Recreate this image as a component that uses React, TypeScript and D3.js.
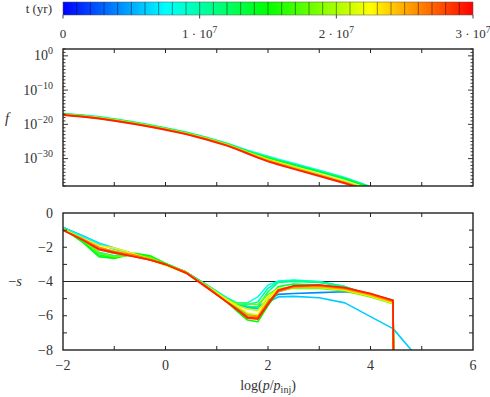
import React from "react";
import * as d3 from "d3";

// grid of log(p/p_inj) where the spectra are sampled
const logP = [-2, -1.6, -1.3, -1.0, -0.6, -0.3, 0, 0.4, 0.8, 1.2, 1.4, 1.6, 1.8, 2.0, 2.2, 2.5, 3.0, 3.5, 4.0, 4.44, 4.45, 4.81];

// times (yr) of the slope curves, bottom panel
const sTimes = [4e6, 6e6, 8e6, 10e6, 11e6, 13e6, 15e6, 18e6, 21e6, 23e6, 25e6, 26e6, 28e6, 29e6];

// -s values for each time, same order as sTimes (null = no point)
const sCurves: (number | null)[][] = [
  [-0.85, -1.35, -1.8, -2.1, -2.4, -2.7, -3.0, -3.45, -4.2, -5.0, -5.35, -5.5, -5.5, -5.1, -4.75, -4.7, -4.65, -4.6, -4.75, -5.1, -9, null],
  [-0.85, -1.35, -1.75, -2.05, -2.4, -2.7, -3.0, -3.45, -4.2, -5.0, -5.4, -5.55, -5.6, -5.2, -4.9, -4.87, -4.95, -5.25, -6.05, -6.75, -6.78, -8.05],
  [-0.85, -1.4, -1.8, -2.1, -2.4, -2.7, -3.0, -3.45, -4.2, -4.95, -5.25, -5.25, -4.9, -4.2, -3.98, -3.92, -4.0, -4.3, -4.8, -5.25, -9, null],
  [-0.87, -1.5, -2.1, -2.35, -2.45, -2.65, -2.97, -3.45, -4.2, -5.0, -5.3, -5.35, -5.2, -4.4, -4.0, -3.95, -4.02, -4.3, -4.8, -5.25, -9, null],
  [-0.88, -1.6, -2.3, -2.5, -2.45, -2.6, -2.95, -3.45, -4.2, -5.0, -5.3, -5.45, -5.5, -4.6, -4.05, -4.0, -4.05, -4.3, -4.8, -5.25, -9, null],
  [-0.9, -1.7, -2.45, -2.6, -2.4, -2.55, -2.95, -3.45, -4.25, -5.1, -5.55, -5.9, -6.0, -5.0, -4.3, -4.15, -4.2, -4.4, -4.85, -5.25, -9, null],
  [-0.9, -1.75, -2.55, -2.65, -2.35, -2.5, -2.95, -3.5, -4.3, -5.2, -5.75, -6.25, -6.35, -5.4, -4.6, -4.35, -4.35, -4.45, -4.85, -5.25, -9, null],
  [-0.9, -1.6, -2.35, -2.55, -2.45, -2.6, -3.0, -3.5, -4.25, -5.1, -5.3, -5.3, -5.35, -4.75, -4.4, -4.4, -4.4, -4.55, -4.9, -5.3, -9, null],
  [-0.95, -1.55, -2.05, -2.2, -2.45, -2.75, -3.05, -3.5, -4.25, -5.05, -5.4, -5.6, -5.7, -4.9, -4.45, -4.35, -4.35, -4.5, -4.85, -5.25, -9, null],
  [-0.95, -1.5, -1.9, -2.05, -2.4, -2.7, -3.05, -3.5, -4.3, -5.1, -5.45, -5.85, -5.95, -5.0, -4.45, -4.3, -4.3, -4.5, -4.85, -5.25, -9, null],
  [-1.0, -1.55, -2.05, -2.3, -2.5, -2.72, -3.0, -3.45, -4.3, -5.2, -5.65, -6.05, -6.1, -5.25, -4.6, -4.35, -4.3, -4.45, -4.8, -5.2, -9, null],
  [-1.0, -1.55, -2.0, -2.25, -2.45, -2.7, -3.0, -3.45, -4.3, -5.2, -5.6, -6.0, -6.05, -5.2, -4.55, -4.3, -4.25, -4.4, -4.75, -5.15, -9, null],
  [-1.0, -1.6, -2.15, -2.35, -2.55, -2.75, -3.0, -3.5, -4.3, -5.2, -5.65, -6.15, -6.2, -5.35, -4.55, -4.28, -4.22, -4.38, -4.72, -5.12, -9, null],
  [-1.0, -1.6, -2.1, -2.3, -2.55, -2.75, -3.0, -3.5, -4.35, -5.2, -5.65, -6.1, -6.15, -5.3, -4.5, -4.25, -4.2, -4.35, -4.7, -5.1, -9, null],
];

// times of the distribution curves, top panel
const fTimes = [8e6, 14e6, 21e6, 25e6, 29e6];

// log10 f on logP[0..18]
const fCurves = [
  [-16.9, -17.35, -17.8, -18.45, -19.4, -20.2, -21.05, -22.3, -23.8, -25.55, -26.6, -27.6, -28.5, -29.4, -30.25, -31.45, -33.45, -35.6, -38.2],
  [-17.0, -17.5, -18.0, -18.6, -19.55, -20.35, -21.2, -22.45, -23.95, -25.7, -26.8, -27.9, -28.85, -29.75, -30.6, -31.8, -33.8, -35.9, -38.4],
  [-17.1, -17.6, -18.1, -18.75, -19.7, -20.5, -21.35, -22.65, -24.15, -25.95, -27.05, -28.2, -29.25, -30.25, -31.15, -32.45, -34.55, -36.7, -39.0],
  [-17.2, -17.7, -18.2, -18.85, -19.8, -20.6, -21.45, -22.75, -24.3, -26.1, -27.2, -28.4, -29.5, -30.55, -31.45, -32.75, -34.85, -36.95, -39.3],
  [-17.3, -17.8, -18.3, -18.95, -19.9, -20.7, -21.55, -22.85, -24.4, -26.2, -27.3, -28.5, -29.7, -30.8, -31.7, -33.0, -35.1, -37.2, -39.5],
];

const xTickLabels = [-2, 0, 2, 4, 6];
const sTickLabels = [0, -2, -4, -6, -8];
const fTickExps = [0, -10, -20, -30];
const cbarTicks = [0, 1e7, 2e7, 3e7];

const L = 63, R = 473;
const TOP0 = 49, TOP1 = 186;
const BOT0 = 213, BOT1 = 350;
const font = "'Liberation Serif', 'DejaVu Serif', serif";
const axisCol = "#222";
const txtCol = "#333";

const x = d3.scaleLinear().domain([-2, 6]).range([L, R]);
const yF = d3.scaleLog().domain([1e-38, 1e2]).range([TOP1, TOP0]);
const yS = d3.scaleLinear().domain([-8, 0]).range([BOT1, BOT0]);
const tX = d3.scaleLinear().domain([0, 3e7]).range([L, R]);
const color = d3
  .scaleLinear<string>()
  .domain([0, 0.25, 0.5, 0.75, 1])
  .range(["#0000ff", "#00ffff", "#00ff00", "#ffff00", "#ff0000"]);
const tColor = (t: number) => color(t / 3e7);

const minus = (v: number) => (v < 0 ? "\u2212" + Math.abs(v) : String(v));

const App = () => {
  const sLine = d3
    .line<number | null>()
    .defined((d) => d !== null)
    .x((_, i) => x(logP[i]))
    .y((d) => yS(d as number));

  const fLine = d3
    .line<number>()
    .x((_, i) => x(logP[i]))
    .y((d) => yF(Math.pow(10, d)));

  const intTicks = d3.range(-1, 6);
  const decades = d3.range(-38, 3);
  const sMinor = d3.range(-7, 0);
  const stops = d3.range(0, 1.0001, 0.05);
  const segs = d3.range(1e6, 3e7, 1e6);

  return (
    <svg width={490} height={397} style={{ position: "absolute", left: 0, top: 0 }} fontFamily={font} fill={txtCol}>
      <defs>
        <linearGradient id="cbar" x1="0" x2="1" y1="0" y2="0">
          {stops.map((s) => (
            <stop key={s} offset={s} stopColor={color(s)} />
          ))}
        </linearGradient>
        <clipPath id="clipTop">
          <rect x={L} y={TOP0} width={R - L} height={TOP1 - TOP0} />
        </clipPath>
        <clipPath id="clipBot">
          <rect x={L} y={BOT0} width={R - L} height={BOT1 - BOT0} />
        </clipPath>
      </defs>

      {/* colour bar */}
      <rect x={L} y={2} width={R - L} height={13} fill="url(#cbar)" />
      {segs.map((t) => (
        <line key={t} x1={tX(t)} x2={tX(t)} y1={2} y2={15} stroke="#000" strokeOpacity={0.55} strokeWidth={0.8} />
      ))}
      <rect x={L} y={2} width={R - L} height={13} fill="none" stroke="#555" strokeWidth={0.5} />
      {cbarTicks.map((t) => (
        <line key={t} x1={tX(t)} x2={tX(t)} y1={15} y2={18.5} stroke="#444" strokeWidth={1} />
      ))}
      <text x={52} y={13} fontSize={13} textAnchor="end">t (yr)</text>
      {cbarTicks.map((t, i) => (
        <text key={t} x={tX(t)} y={38} fontSize={13} textAnchor="middle">
          {i === 0 ? "0" : `${i} \u00b7 10`}
          {i === 0 ? null : <tspan dy={-5} fontSize={9.5}>7</tspan>}
        </text>
      ))}

      {/* top panel: f */}
      <g clipPath="url(#clipTop)">
        {fCurves.map((c, i) => (
          <path key={i} d={fLine(c) || ""} fill="none" stroke={tColor(fTimes[i])} strokeWidth={2} />
        ))}
      </g>
      <rect x={L} y={TOP0} width={R - L} height={TOP1 - TOP0} fill="none" stroke={axisCol} strokeWidth={1.4} />
      {intTicks.map((v) => (
        <g key={v} stroke={axisCol} strokeWidth={1}>
          <line x1={x(v)} x2={x(v)} y1={TOP0} y2={TOP0 + 4} />
          <line x1={x(v)} x2={x(v)} y1={TOP1} y2={TOP1 - 4} />
        </g>
      ))}
      {decades.map((e) => {
        const major = e % 10 === 0;
        const len = major ? 5 : 2.5;
        const yy = yF(Math.pow(10, e));
        return (
          <g key={e} stroke={axisCol} strokeWidth={0.9}>
            <line x1={L} x2={L + len} y1={yy} y2={yy} />
            <line x1={R} x2={R - len} y1={yy} y2={yy} />
          </g>
        );
      })}
      {fTickExps.map((e) => (
        <text key={e} x={53} y={yF(Math.pow(10, e)) + 4.5} fontSize={14} textAnchor="end">
          10<tspan dy={-6} fontSize={10}>{minus(e)}</tspan>
        </text>
      ))}
      <text x={5} y={123} fontSize={14.5} fontStyle="italic">f</text>

      {/* bottom panel: -s */}
      <line x1={L} x2={R} y1={yS(-4)} y2={yS(-4)} stroke="#222" strokeWidth={1} />
      <g clipPath="url(#clipBot)">
        {sCurves.map((c, i) => (
          <path key={i} d={sLine(c) || ""} fill="none" stroke={tColor(sTimes[i])} strokeWidth={1.6} strokeLinejoin="round" />
        ))}
      </g>
      <rect x={L} y={BOT0} width={R - L} height={BOT1 - BOT0} fill="none" stroke={axisCol} strokeWidth={1.4} />
      {intTicks.map((v) => (
        <g key={v} stroke={axisCol} strokeWidth={1}>
          <line x1={x(v)} x2={x(v)} y1={BOT0} y2={BOT0 + 4} />
          <line x1={x(v)} x2={x(v)} y1={BOT1} y2={BOT1 - 4} />
        </g>
      ))}
      {sMinor.map((v) => (
        <g key={v} stroke={axisCol} strokeWidth={1}>
          <line x1={L} x2={L + 4} y1={yS(v)} y2={yS(v)} />
          <line x1={R} x2={R - 4} y1={yS(v)} y2={yS(v)} />
        </g>
      ))}
      {sTickLabels.map((v) => (
        <text key={v} x={53} y={yS(v) + 4.5} fontSize={14} textAnchor="end">{minus(v)}</text>
      ))}
      {xTickLabels.map((v) => (
        <text key={v} x={x(v)} y={370} fontSize={14} textAnchor="middle">{minus(v)}</text>
      ))}
      <text x={15} y={286} fontSize={14.5} textAnchor="middle">
        {"\u2212"}<tspan fontStyle="italic">s</tspan>
      </text>
      <text x={268} y={390} fontSize={14} textAnchor="middle">
        log(<tspan fontStyle="italic">p</tspan>/<tspan fontStyle="italic">p</tspan>
        <tspan dy={3} fontSize={10}>inj</tspan>
        <tspan dy={-3}>)</tspan>
      </text>
    </svg>
  );
};

export default App;
